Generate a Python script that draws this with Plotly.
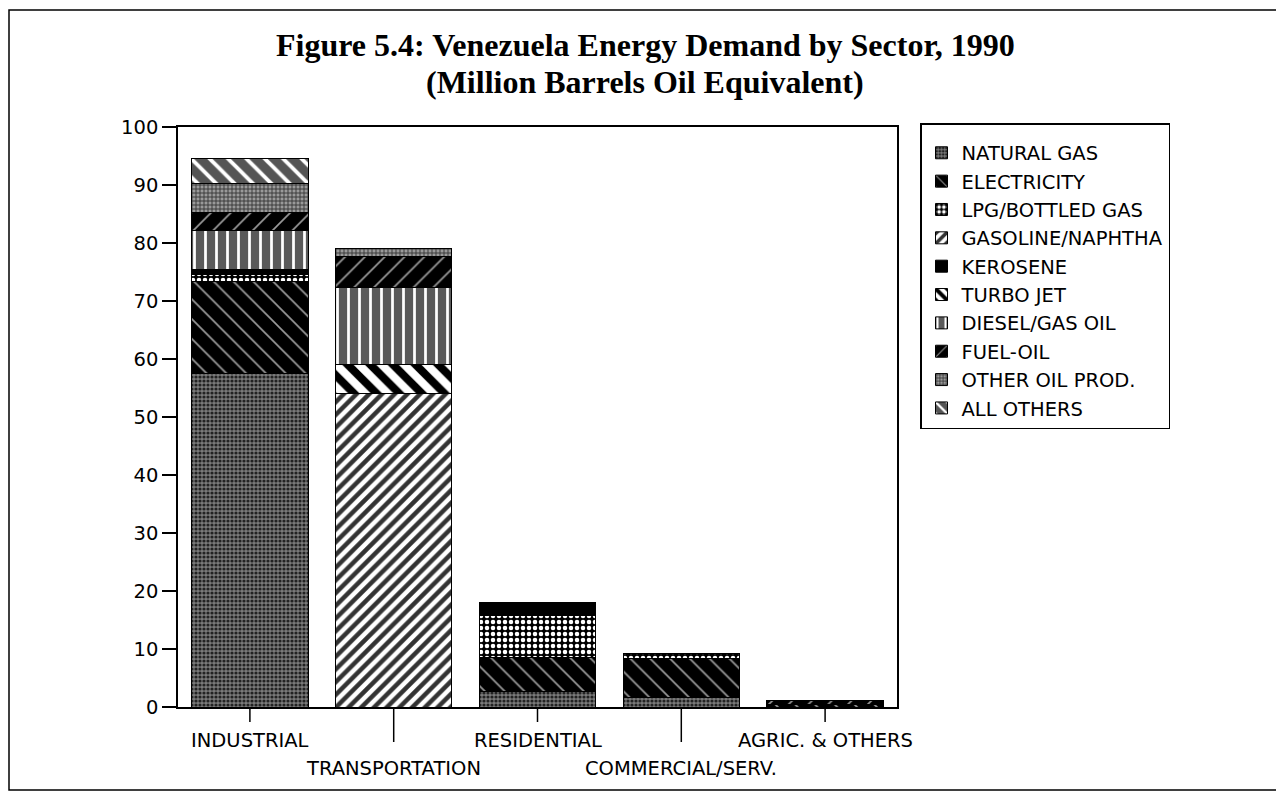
import plotly.graph_objects as go

# ---------------- data ----------------
categories = ["INDUSTRIAL", "TRANSPORTATION", "RESIDENTIAL", "COMMERCIAL/SERV.", "AGRIC. & OTHERS"]
natural_gas   = [57.5, 0.0, 2.6, 1.7, 0.0]
electricity   = [15.8, 0.0, 6.0, 6.7, 0.5]
lpg           = [1.2, 0.0, 7.2, 0.9, 0.0]
gasoline      = [0.0, 54.0, 0.0, 0.0, 0.0]
kerosene      = [1.0, 0.0, 2.3, 0.0, 0.0]
turbo_jet     = [0.0, 5.0, 0.0, 0.0, 0.0]
diesel        = [6.6, 13.4, 0.0, 0.0, 0.0]
fuel_oil      = [3.1, 5.2, 0.0, 0.0, 0.6]
other_oil     = [5.0, 1.4, 0.0, 0.0, 0.0]
all_others    = [4.3, 0.0, 0.0, 0.0, 0.0]
series_names = ["NATURAL GAS", "ELECTRICITY", "LPG/BOTTLED GAS", "GASOLINE/NAPHTHA",
                "KEROSENE", "TURBO JET", "DIESEL/GAS OIL", "FUEL-OIL",
                "OTHER OIL PROD.", "ALL OTHERS"]
series_values = [natural_gas, electricity, lpg, gasoline, kerosene, turbo_jet,
                 diesel, fuel_oil, other_oil, all_others]
y_ticks = [0, 10, 20, 30, 40, 50, 60, 70, 80, 90, 100]

title1 = "Figure 5.4: Venezuela Energy Demand by Sector, 1990"
title2 = "(Million Barrels Oil Equivalent)"

# ---------------- styles ----------------
# (shape, bgcolor, fgcolor, size, solidity)
styles = [
    (".", "#7a7a7a", "#222222", 4, 0.5),    # natural gas
    ("\\", "#000000", "#9a9a9a", 14, 0.12), # electricity
    (".", "#000000", "#ffffff", 6, 0.45),   # lpg
    ("/", "#ffffff", "#333333", 9, 0.5),    # gasoline
    ("", "#000000", "#000000", 8, 0.3),     # kerosene
    ("\\", "#ffffff", "#000000", 16, 0.5),  # turbo jet
    ("|", "#5a5a5a", "#ffffff", 11, 0.25),  # diesel
    ("/", "#000000", "#9a9a9a", 14, 0.12),  # fuel oil
    ("+", "#9a9a9a", "#333333", 4, 0.4),    # other oil prod
    ("\\", "#555555", "#ffffff", 13, 0.3),  # all others
]

# page body has an 8px margin; reference coordinates are shifted by it
OFF = 8
W, H = 1284 - OFF, 798 - OFF
L, R, T, B = 178 - OFF, 897 - OFF, 127 - OFF, 707 - OFF
pw, ph = R - L, B - T

def px(x):
    return (x - OFF - L) / pw

def py(y):
    return (B - (y - OFF)) / ph

fig = go.Figure()
for i, (name, vals) in enumerate(zip(series_names, series_values)):
    shape, bg, fg, size, sol = styles[i]
    fig.add_trace(go.Bar(
        x=list(range(len(categories))), y=vals, name=name,
        legendgroup=name,
        marker=dict(color=bg, line=dict(color="black", width=1),
                    pattern=dict(shape=shape, bgcolor=bg, fgcolor=fg,
                                 size=size, solidity=sol, fillmode="replace")),
    ))

font_sans = "DejaVu Sans"
fsize = 19.5
shapes = []
# x tick marks (alternating short/long)
for i in range(len(categories)):
    ln = 15 if i % 2 == 0 else 35
    shapes.append(dict(type="line", xref="x", yref="paper", x0=i, x1=i,
                       y0=0, y1=-ln / ph, line=dict(color="black", width=1.5)))
# outer frame
shapes.append(dict(type="rect", xref="paper", yref="paper",
                   x0=px(9), x1=px(1278), y0=py(790), y1=py(10),
                   line=dict(color="black", width=1.5), layer="below"))

annotations = [
    dict(text="<b>" + title1 + "</b>", xref="paper", yref="paper",
         x=px(645), y=py(45), showarrow=False, xanchor="center", yanchor="middle",
         font=dict(family="Liberation Serif", size=32, color="black")),
    dict(text="<b>" + title2 + "</b>", xref="paper", yref="paper",
         x=px(645), y=py(82), showarrow=False, xanchor="center", yanchor="middle",
         font=dict(family="Liberation Serif", size=32, color="black")),
]
for i, c in enumerate(categories):
    yy = 740 if i % 2 == 0 else 768
    annotations.append(dict(text=c, xref="x", yref="paper", x=i, y=py(yy),
                            showarrow=False, xanchor="center", yanchor="middle",
                            font=dict(family=font_sans, size=fsize, color="black")))

fig.update_layout(
    width=W, height=H,
    margin=dict(l=L, r=W - R, t=T, b=H - B, pad=0),
    paper_bgcolor="white", plot_bgcolor="white",
    barmode="stack", bargap=0.19,
    showlegend=True,
    legend=dict(x=px(920), y=py(123), xanchor="left", yanchor="top",
                bordercolor="black", borderwidth=1.5, bgcolor="white",
                traceorder="grouped", tracegroupgap=0,
                title=dict(text=" ", font=dict(size=7)),
                font=dict(family=font_sans, size=fsize, color="black"),
                itemwidth=30),
    xaxis=dict(range=[-0.5, len(categories) - 0.5], showticklabels=False,
               ticks="", showgrid=False, zeroline=False,
               showline=True, linecolor="black", linewidth=2, mirror=True),
    yaxis=dict(range=[0, 100], tickvals=y_ticks, ticks="outside", ticklen=14,
               tickwidth=1.5, tickcolor="black", showgrid=False, zeroline=False,
               showline=True, linecolor="black", linewidth=1.5, mirror=True,
               tickfont=dict(family=font_sans, size=fsize, color="black")),
    shapes=shapes, annotations=annotations,
)

fig.write_html("out.html")
